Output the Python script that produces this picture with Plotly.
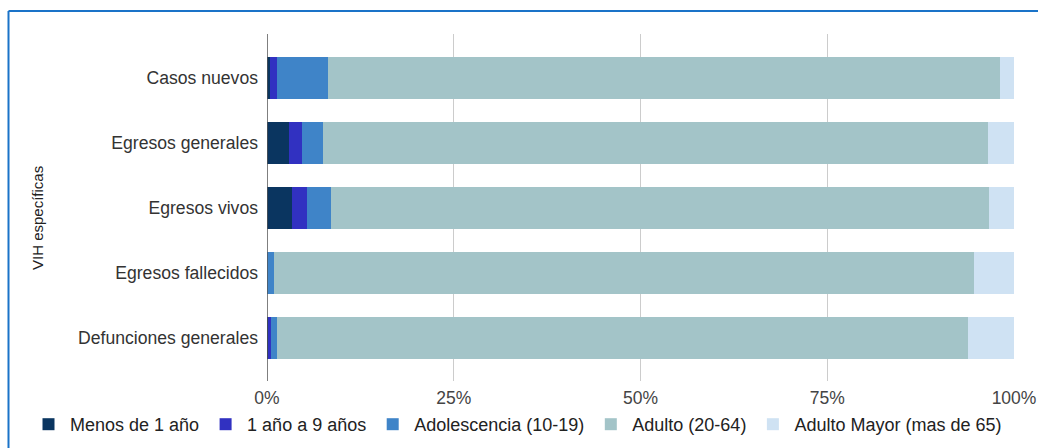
import plotly.graph_objects as go

categories = ["Casos nuevos", "Egresos generales", "Egresos vivos", "Egresos fallecidos", "Defunciones generales"]
series_names = ["Menos de 1 año", "1 año a 9 años", "Adolescencia (10-19)", "Adulto (20-64)", "Adulto Mayor (mas de 65)"]
menos_1 = [0.4, 2.9, 3.3, 0.0, 0.2]
anio_1_9 = [1.0, 1.8, 2.0, 0.0, 0.3]
adolescencia = [6.8, 2.8, 3.2, 0.9, 0.8]
adulto = [89.9, 89.0, 88.2, 93.8, 92.5]
adulto_mayor = [1.9, 3.5, 3.3, 5.3, 6.2]
tick_vals = [0, 25, 50, 75, 100]
tick_text = ["0%", "25%", "50%", "75%", "100%"]
colors = ["#0a3560", "#3131c1", "#3f84c8", "#a3c4c8", "#cfe2f3"]

W, H = 1038, 448
L, R, T, B = 267, 24, 34, 67
pw, ph = W - L - R, H - T - B

fig = go.Figure()
for name, vals, col in zip(series_names, [menos_1, anio_1_9, adolescencia, adulto, adulto_mayor], colors):
    fig.add_trace(go.Bar(
        y=categories, x=vals, name=name, orientation="h",
        marker=dict(color=col, line=dict(width=0)),
    ))

def px_x(p):
    return (p - L) / pw

def px_y(p):
    return (H - B - p) / ph

fig.update_layout(
    width=W, height=H,
    margin=dict(l=L, r=R, t=T, b=B, pad=0, autoexpand=False),
    barmode="stack",
    bargap=0.36,
    plot_bgcolor="white",
    paper_bgcolor="white",
    font=dict(family="Liberation Sans, Arial, sans-serif", size=17, color="#333333"),
    xaxis=dict(
        range=[0, 100], tickvals=tick_vals, ticktext=tick_text,
        showgrid=True, gridcolor="#cccccc", gridwidth=1,
        zeroline=False, showline=False, ticks="",
        ticklabelstandoff=4,
        tickfont=dict(size=17.5, color="#444444"),
        automargin=False,
    ),
    yaxis=dict(
        categoryorder="array", categoryarray=categories,
        autorange=False, range=[4.66, -0.68],
        showgrid=False, zeroline=False, showline=False, ticks="",
        ticklabelstandoff=8, automargin=False,
        tickfont=dict(size=17.6, color="#333333"),
    ),
    legend=dict(
        orientation="h",
        x=px_x(27), xanchor="left", y=px_y(406), yanchor="top",
        font=dict(size=18, color="#222222"), traceorder="normal",
        itemwidth=33, bgcolor="rgba(0,0,0,0)",
    ),
    showlegend=True,
    shapes=[
        dict(type="line", xref="x", yref="paper", x0=0, x1=0, y0=0, y1=1,
             line=dict(color="#555555", width=1.5), layer="above"),
        dict(type="line", xref="paper", yref="paper", x0=px_x(8.5), x1=px_x(8.5), y0=px_y(11), y1=px_y(460),
             line=dict(color="#1a73c8", width=2)),
        dict(type="line", xref="paper", yref="paper", x0=px_x(8.5), x1=px_x(1050), y0=px_y(11), y1=px_y(11),
             line=dict(color="#1a73c8", width=2)),
    ],
)
fig.add_annotation(text="VIH específicas", xref="paper", yref="paper", x=px_x(37), y=px_y(218),
                   xanchor="center", yanchor="middle",
                   showarrow=False, textangle=-90, font=dict(size=15, color="#222222"))

fig.write_html("out.html")
